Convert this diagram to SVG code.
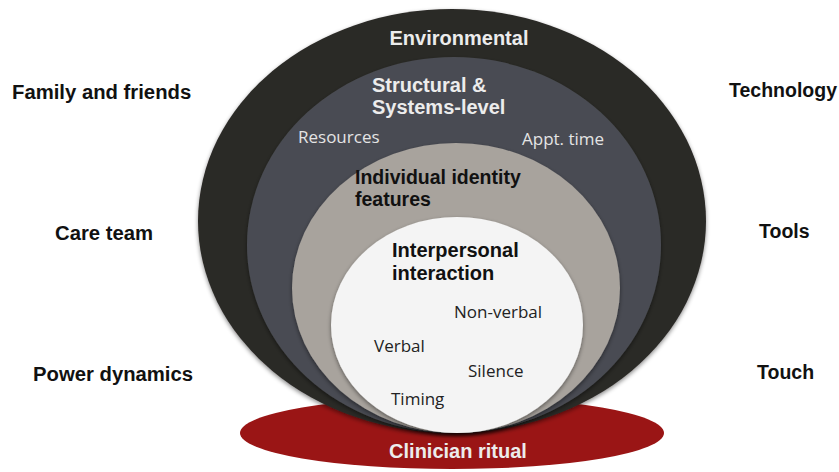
<svg xmlns="http://www.w3.org/2000/svg" width="839" height="472" viewBox="0 0 839 472">
  <defs>
    <filter id="shadow" x="-10%" y="-10%" width="120%" height="125%">
      <feDropShadow dx="0" dy="2" stdDeviation="2" flood-color="#000" flood-opacity="0.45"/>
    </filter>
  </defs>
  <style>
    .hb { font-family: "Liberation Sans", Arial, sans-serif; font-weight: bold; font-size: 20px; }
    .hbl { font-family: "Liberation Sans", Arial, sans-serif; font-weight: bold; font-size: 19.5px; fill: #111; }
    .side { font-size: 20.3px; }
    .lt { fill: #ececec; }
    .dk { fill: #111; }
    .sm { font-family: "Open Sans", "Liberation Sans", sans-serif; font-size: 17px; }
  </style>
  <rect width="839" height="472" fill="#ffffff"/>

  <g id="clinician-ritual">
    <ellipse cx="452" cy="433" rx="212" ry="36" fill="#9a1515"/>
  </g>

  <g id="environmental">
    <ellipse cx="452" cy="221" rx="254" ry="212" fill="#2c2a27" filter="url(#shadow)"/>
    <text class="hb lt" x="459" y="45" text-anchor="middle">Environmental</text>
  </g>

  <g id="structural">
    <ellipse cx="454" cy="245" rx="207" ry="188" fill="#4a4c52" filter="url(#shadow)"/>
    <text class="hb lt" x="372" y="92">Structural &amp;</text>
    <text class="hb lt" x="372" y="114">Systems-level</text>
    <text class="sm" x="298" y="143" fill="#e4e4e4">Resources</text>
    <text class="sm" x="522" y="145" fill="#e4e4e4">Appt. time</text>
  </g>

  <g id="individual">
    <ellipse cx="456" cy="288" rx="164" ry="145" fill="#a8a39d" filter="url(#shadow)"/>
    <text class="hbl" x="355" y="184">Individual identity</text>
    <text class="hbl" x="355" y="206">features</text>
  </g>

  <g id="interpersonal">
    <ellipse cx="457" cy="325" rx="126" ry="108" fill="#f4f4f4" filter="url(#shadow)"/>
    <text class="hb dk" x="392" y="257">Interpersonal</text>
    <text class="hb dk" x="392" y="280">interaction</text>
    <text class="sm" x="454" y="318" fill="#222">Non-verbal</text>
    <text class="sm" x="374" y="352" fill="#222">Verbal</text>
    <text class="sm" x="468" y="377" fill="#222">Silence</text>
    <text class="sm" x="391" y="405" fill="#222">Timing</text>
  </g>

  <g id="clinician-ritual-label">
    <text class="hb lt" x="458" y="458" text-anchor="middle" font-size="19.5">Clinician ritual</text>
  </g>

  <g id="outer-labels">
    <text class="hbl side" x="12" y="99">Family and friends</text>
    <text class="hbl side" x="55" y="240">Care team</text>
    <text class="hbl side" x="33" y="381">Power dynamics</text>
    <text class="hbl" x="729" y="97">Technology</text>
    <text class="hbl" x="759" y="238">Tools</text>
    <text class="hbl" x="757" y="379">Touch</text>
  </g>

  <g id="connectors"></g>
</svg>
